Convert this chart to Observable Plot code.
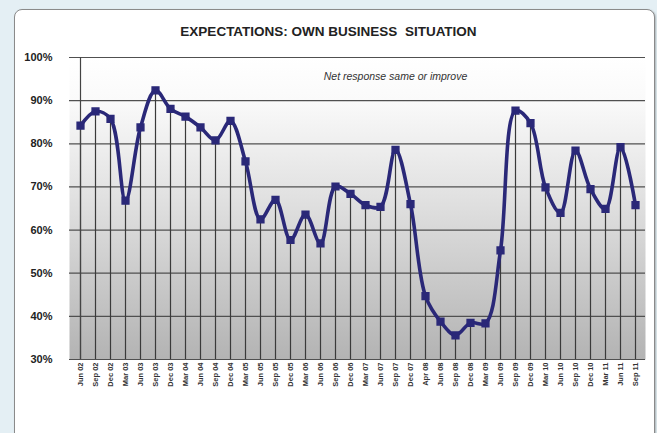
<!DOCTYPE html>
<html>
<head>
<meta charset="utf-8">
<script src="https://cdn.jsdelivr.net/npm/d3@7"></script>
<script src="https://cdn.jsdelivr.net/npm/@observablehq/plot@0.6"></script>
<style>
  html, body { margin: 0; padding: 0; }
  body { width: 657px; height: 433px; background: #e4eff4; position: relative; overflow: hidden; font-family: "Liberation Sans", Arial, sans-serif; }
  #panel { position: absolute; left: 14px; top: 9px; width: 639px; height: 440px; background: #fff; border: 1px solid #8a8a8a; border-radius: 8px; box-shadow: 1px 1px 2px rgba(0,0,0,0.25); }
  #title { position: absolute; left: 0; top: 0; width: 657px; height: 45px; text-align: center; font-weight: bold; font-size: 13.5px; line-height: 13px; padding-top: 25px; box-sizing: border-box; color: #222; font-family: "Liberation Sans Narrow", "Arial Narrow", "Liberation Sans", sans-serif; }
  #chart { position: absolute; left: 0; top: 45px; }
</style>
</head>
<body>
<div id="panel"></div>
<div id="title">EXPECTATIONS: OWN BUSINESS&nbsp; SITUATION</div>
<div id="chart"></div>
<script>
const quarters = ["Jun 02","Sep 02","Dec 02","Mar 03","Jun 03","Sep 03","Dec 03","Mar 04","Jun 04","Sep 04","Dec 04","Mar 05","Jun 05","Sep 05","Dec 05","Mar 06","Jun 06","Sep 06","Dec 06","Mar 07","Jun 07","Sep 07","Dec 07","Apr 08","Jun 08","Sep 08","Dec 08","Mar 09","Jun 09","Sep 09","Dec 09","Mar 10","Jun 10","Sep 10","Dec 10","Mar 11","Jun 11","Sep 11"];
const values = [84.2,87.5,85.8,66.8,83.8,92.4,88.1,86.3,83.8,80.8,85.3,75.9,62.5,67.0,57.7,63.6,56.9,70.1,68.4,65.8,65.4,78.6,66.0,44.7,38.8,35.6,38.5,38.4,55.3,87.7,84.8,69.9,64.0,78.4,69.5,64.9,79.2,65.8];
const yTicks = [30,40,50,60,70,80,90,100];
const noteText = "Net response same or improve";
const noteAt = {x: "Jun 07", y: 95.6};

const data = quarters.map((q, i) => ({q, v: values[i]}));
const navy = "#2a2878";

const chart = Plot.plot({
  width: 657,
  height: 388,
  marginLeft: 69,
  marginRight: 12,
  marginTop: 12,
  marginBottom: 74,
  style: {background: "transparent", fontFamily: "'Liberation Sans', Arial, sans-serif", overflow: "visible"},
  x: {type: "point", domain: quarters, padding: 0, label: null},
  y: {domain: [30, 100], label: null},
  marks: [
    Plot.frame({fill: "url(#bgGrad)", stroke: null}),
    Plot.ruleY(yTicks, {stroke: "#505050", strokeWidth: 1.2}),
    Plot.ruleX(data, {x: "q", y1: 30, y2: "v", stroke: "#3a3a3a", strokeWidth: 1.2}),
    Plot.ruleX([quarters[0]], {y1: 30, y2: 100, stroke: "#444", strokeWidth: 1.2}),
    Plot.axisY({ticks: yTicks, tickSize: 0, tickPadding: 17, tickFormat: d => d + "%", fontSize: 11, fontWeight: "bold", fill: "#222"}),
    Plot.axisX({tickSize: 0, tickPadding: 3, tickRotate: -90, fontSize: 7.5, fontWeight: "bold", fill: "#333"}),
    Plot.line(data, {x: "q", y: "v", stroke: navy, strokeWidth: 3.6, curve: "catmull-rom"}),
    Plot.dot(data, {x: "q", y: "v", symbol: "square", r: 3.8, fill: navy, stroke: navy}),
    Plot.text([noteText], {x: () => noteAt.x, y: () => noteAt.y, text: d => d, dx: 15, fontSize: 10.5, fontStyle: "italic", fill: "#333"})
  ]
});

const svg = d3.select(chart);
const defs = svg.insert("defs", ":first-child");
const g = defs.append("linearGradient").attr("id", "bgGrad").attr("x1", 0).attr("y1", 0).attr("x2", 0).attr("y2", 1);
g.append("stop").attr("offset", "0").attr("stop-color", "#ffffff");
g.append("stop").attr("offset", "0.14").attr("stop-color", "#fafafa");
g.append("stop").attr("offset", "0.5").attr("stop-color", "#dedede");
g.append("stop").attr("offset", "1").attr("stop-color", "#b3b3b3");

document.getElementById("chart").appendChild(chart);
</script>
</body>
</html>
